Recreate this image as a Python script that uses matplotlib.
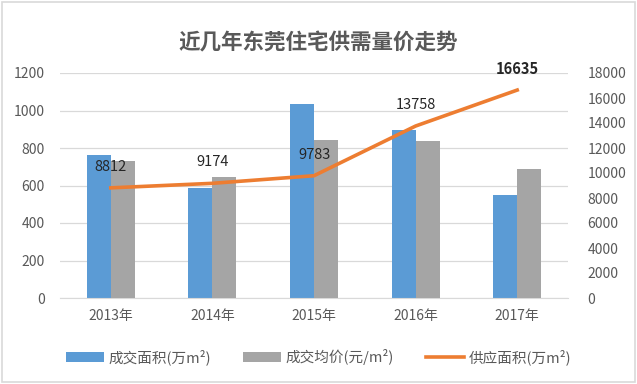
import matplotlib
matplotlib.use("Agg")
import matplotlib.pyplot as plt
from matplotlib.patches import Rectangle
import numpy as np

plt.rcParams['font.family'] = ['Noto Sans CJK SC', 'DejaVu Sans']

years = ["2013年", "2014年", "2015年", "2016年", "2017年"]
deal_area = [763, 588, 1035, 896, 549]          # 成交面积(万m²) left axis
avg_price = [10965, 9675, 12615, 12555, 10320]  # 成交均价(元/m²) right axis
supply_area = [8812, 9174, 9783, 13758, 16635]  # 供应面积 right axis

BLUE = "#5B9BD5"
GRAY = "#A5A5A5"
ORANGE = "#ED7D31"
TXT = "#595959"
GRID = "#D9D9D9"

fig = plt.figure(figsize=(6.37, 3.84), dpi=100)
fig.patches.append(Rectangle((0.003, 0.004), 0.994, 0.992, transform=fig.transFigure,
                             fill=False, edgecolor="#D9D9D9", linewidth=1.2))

ax = fig.add_axes([60/637, 1-298/384, 508/637, 225/384])
ax2 = ax.twinx()

x = np.arange(len(years))
w = 0.236
b1 = ax.bar(x - w/2, deal_area, width=w, color=BLUE, zorder=2)
b2 = ax2.bar(x + w/2, avg_price, width=w, color=GRAY, zorder=2)
l1, = ax2.plot(x, supply_area, color=ORANGE, linewidth=2.6, zorder=3)

for xi, v in zip(x, supply_area):
    ax2.annotate(f"{v}", (xi, v), xytext=(0, 15), textcoords="offset points",
                 ha="center", va="center", fontsize=10.5, color="#262626",
                 fontweight="bold" if v == 16635 else "normal")

ax.set_xlim(-0.5, len(years) - 0.5)
ax.set_ylim(0, 1200)
ax.set_yticks(range(0, 1201, 200))
ax2.set_ylim(0, 18000)
ax2.set_yticks(range(0, 18001, 2000))
ax.set_xticks(x)
ax.set_xticklabels(years)

ax.grid(axis="y", color=GRID, linewidth=0.9, zorder=0)
ax.set_axisbelow(True)
for a in (ax, ax2):
    for s in a.spines.values():
        s.set_visible(False)
ax.spines["bottom"].set_visible(True)
ax.spines["bottom"].set_color(GRID)
ax.tick_params(axis="both", length=0, colors=TXT, labelsize=10)
ax.tick_params(axis="y", pad=11)
ax.tick_params(axis="x", pad=8)
ax2.tick_params(axis="y", length=0, colors=TXT, labelsize=10, pad=14)

fig.text(0.5, 1-43/384, "近几年东莞住宅供需量价走势", ha="center", va="center",
         fontsize=15.5, fontweight="bold", color=TXT)

fig.legend([b1, b2, l1], ["成交面积(万m²)", "成交均价(元/m²)", "供应面积(万m²)"],
           loc="center", bbox_to_anchor=(0.5, 1-357/384), ncol=3, frameon=False,
           fontsize=10.5, labelcolor=TXT, handlelength=2.6, handleheight=0.7,
           columnspacing=2.2, handletextpad=0.3)

fig.savefig("out.png", dpi=100)
